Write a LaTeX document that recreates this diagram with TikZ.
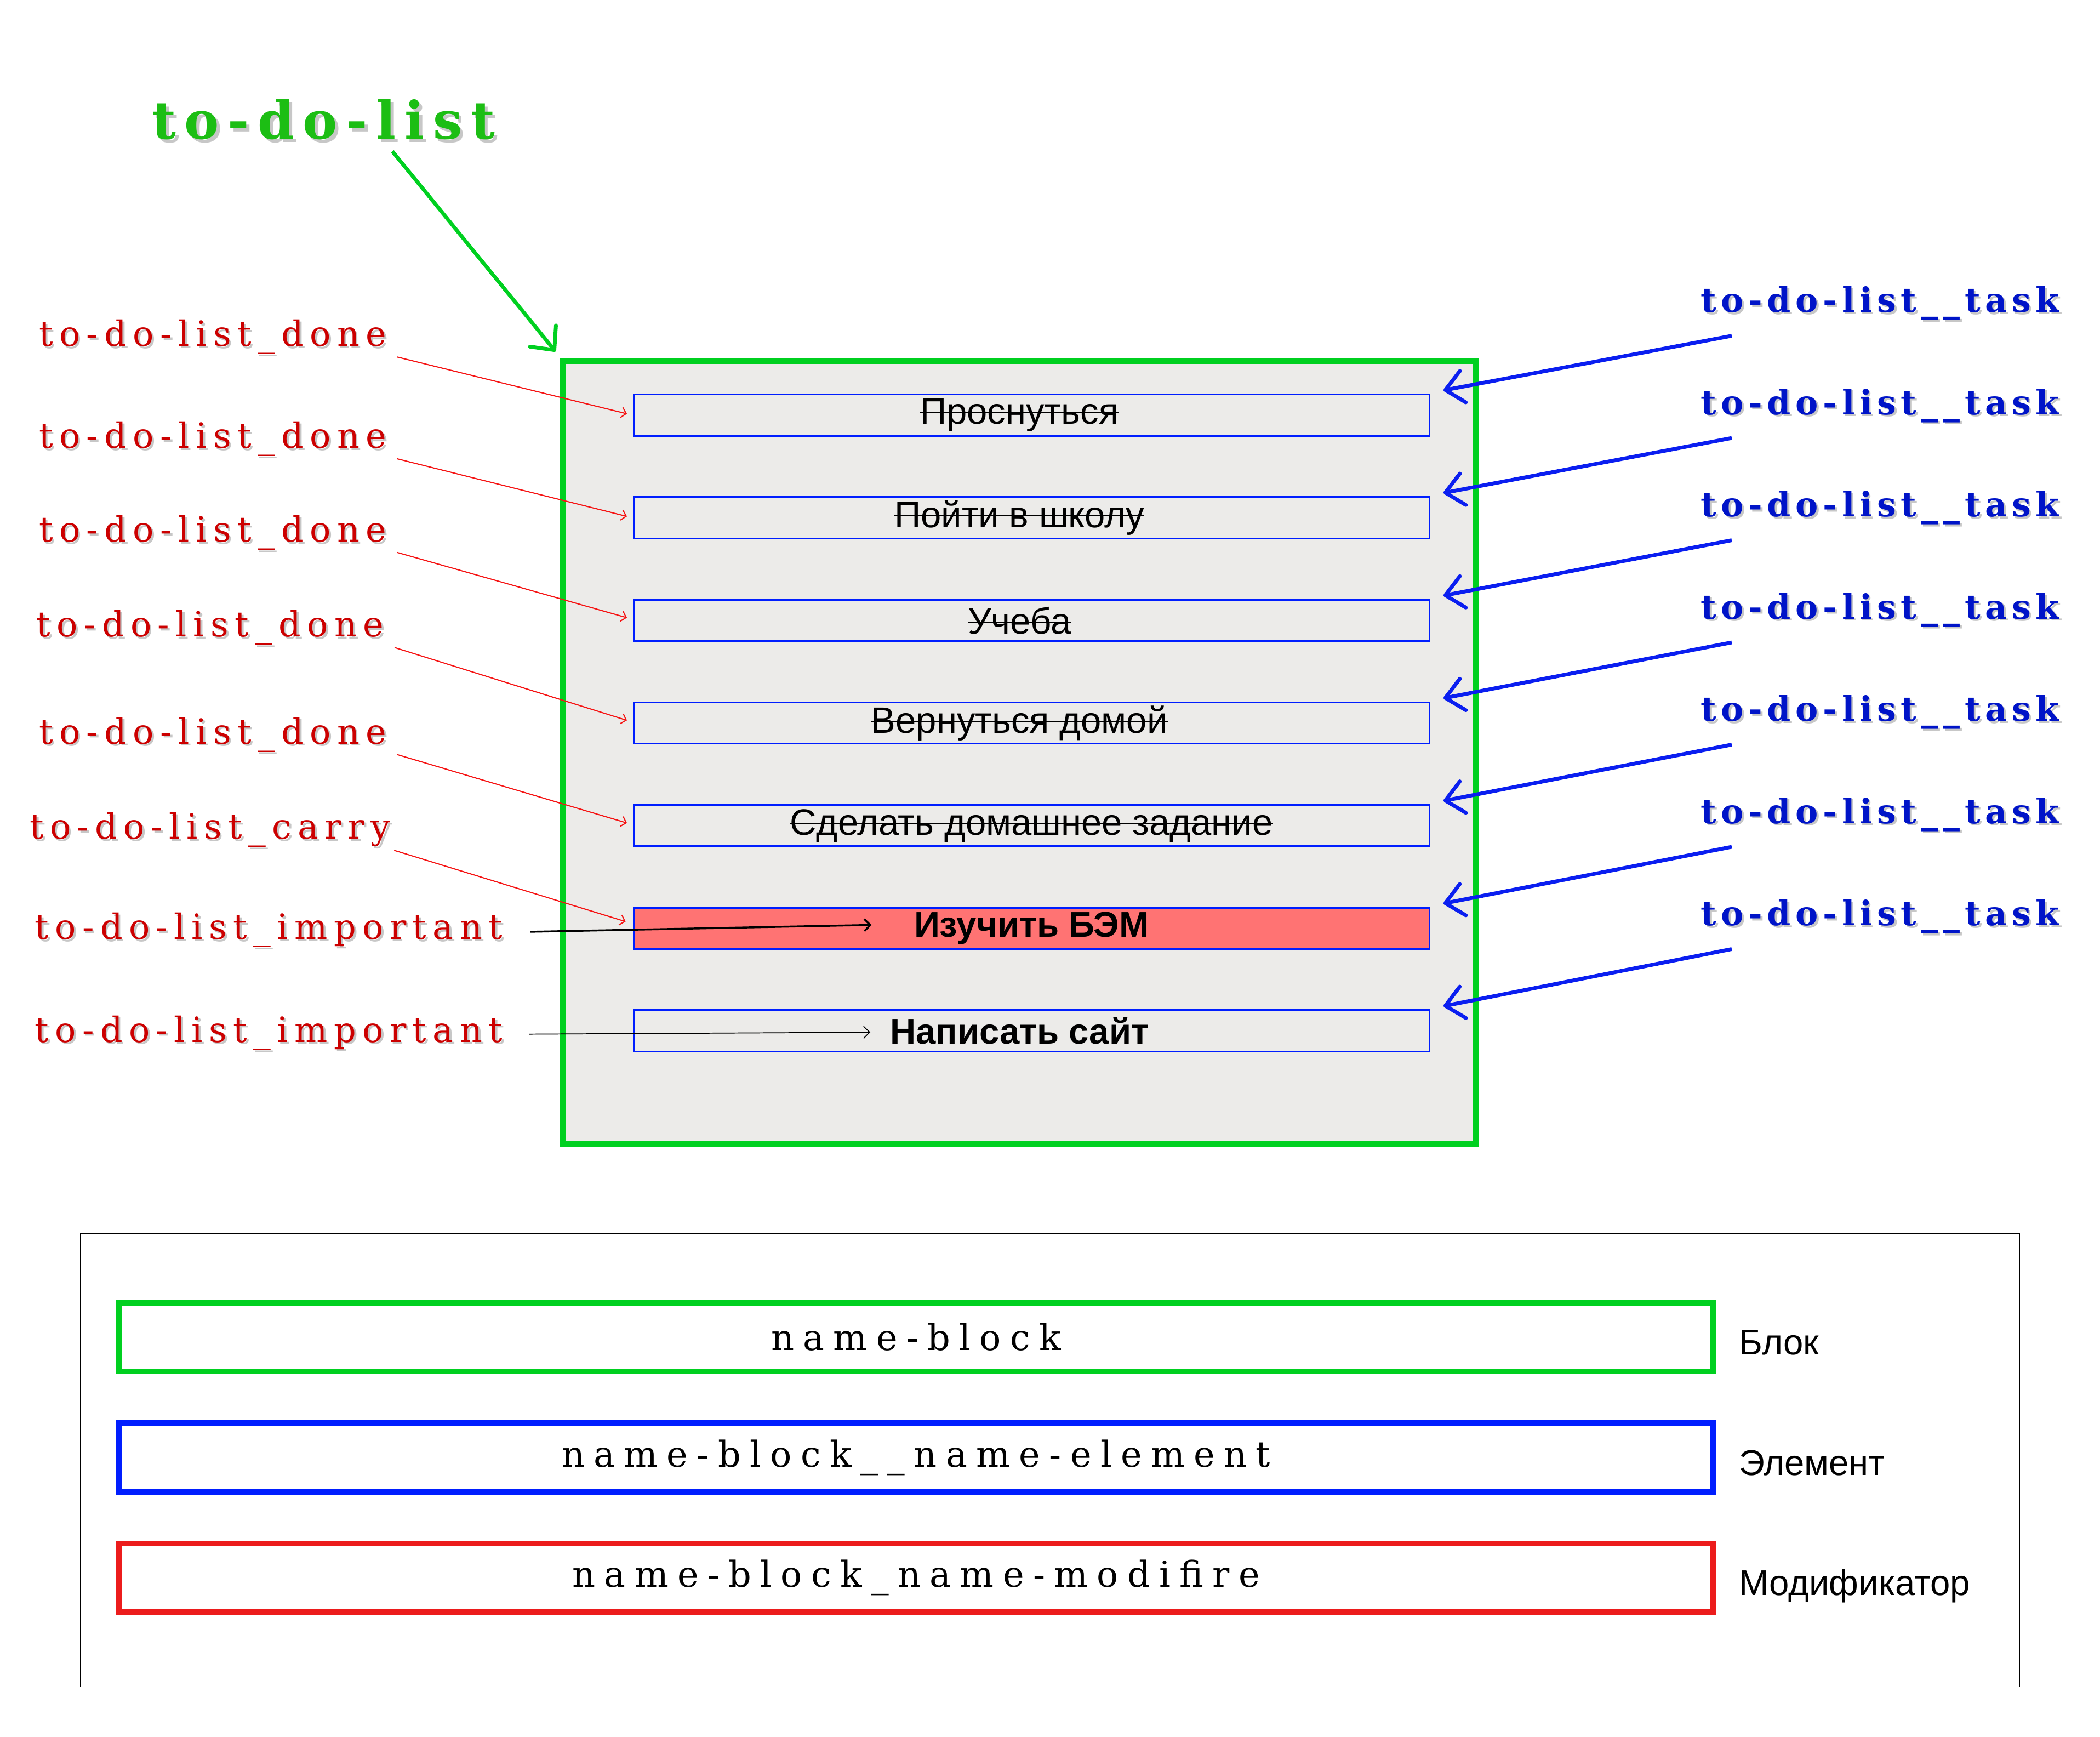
\documentclass[tikz,border=0pt]{standalone}
\usepackage{fontspec}
\setmainfont{Liberation Sans}
\newfontfamily\redfont[LetterSpace=18]{DejaVu Serif}
\newfontfamily\ttlfont[LetterSpace=16.5]{DejaVu Serif}
\newfontfamily\bluefont[LetterSpace=14]{DejaVu Serif}
\newfontfamily\legfont[LetterSpace=25]{DejaVu Serif}
\usetikzlibrary{positioning,arrows.meta}
\definecolor{tdlgreen}{RGB}{0,208,32}
\definecolor{ttlgreen}{RGB}{28,190,20}
\definecolor{tdlgray}{RGB}{236,235,233}
\definecolor{tblue}{RGB}{0,30,255}
\definecolor{arrblue}{RGB}{10,30,240}
\definecolor{lblblue}{RGB}{0,20,200}
\definecolor{lblred}{RGB}{204,0,0}
\definecolor{arrred}{RGB}{245,20,20}
\definecolor{legred}{RGB}{236,28,28}
\definecolor{bemred}{RGB}{255,115,115}
\newcommand{\shd}[1]{\rlap{\kern0.06em\raisebox{-0.06em}{\textcolor{black!22}{#1}}}#1}
\newcommand{\strk}[1]{\sbox0{#1}\rlap{\usebox0}\rule[0.3em]{\wd0}{0.6pt}}
\tikzstyle{tdlbox}=[rectangle, draw=tdlgreen, fill=tdlgray, line width=2.9pt,
                    outer sep=0pt, inner sep=0pt, minimum width=17.03cm, minimum height=14.61cm]
\tikzstyle{tbox}=[rectangle, draw=tblue, line width=1pt, outer sep=0pt, inner sep=0pt,
                  minimum width=14.85cm, minimum height=0.77cm, font=\fontsize{19.5}{22}\selectfont]
\tikzstyle{bbox}=[tbox, font=\fontsize{19}{22}\selectfont\bfseries]
\tikzstyle{ibox}=[bbox, fill=bemred]
\tikzstyle{ttl}=[anchor=base west, inner sep=0pt, text=ttlgreen,
                 font=\ttlfont\bfseries\fontsize{27.6}{32}\selectfont]
\tikzstyle{rlbl}=[anchor=base west, inner sep=0pt, text=lblred, font=\redfont\fontsize{18.5}{22}\selectfont]
\tikzstyle{blbl}=[anchor=base west, inner sep=0pt, text=lblblue,
                  font=\bluefont\bfseries\fontsize{18}{22}\selectfont]
\tikzstyle{lgframe}=[rectangle, draw=black, line width=0.3pt, outer sep=0pt, inner sep=0pt,
                     minimum width=36.2cm, minimum height=8.46cm]
\tikzstyle{lgbox}=[rectangle, line width=2.9pt, outer sep=0pt, inner sep=0pt, minimum width=29.75cm,
                   minimum height=1.285cm, font=\legfont\fontsize{19}{22}\selectfont]
\tikzstyle{lglbl}=[inner sep=0pt, font=\fontsize{19}{22}\selectfont]
\tikzstyle{garr}=[-{Straight Barb[round,length=9.6pt,width=17.8pt]}, draw=tdlgreen, line width=2pt]
\tikzstyle{barr}=[-{Straight Barb[round,length=9.5pt,width=17pt]}, draw=arrblue, line width=2pt]
\tikzstyle{rarr}=[-{Straight Barb[length=2.5pt,width=5.5pt]}, draw=arrred, line width=0.6pt]
\tikzstyle{karr}=[-{Straight Barb[length=3.2pt,width=6.4pt]}, draw=black, line width=1pt]

\begin{document}
\begin{tikzpicture}[x=0.025cm, y=-0.025cm]
\useasboundingbox (0,0) rectangle (1568,1296.7);

\node (TDL) [ttl] at (113.3,103.8) {\shd{to-do-list}};
\node (TDLBOX) [tdlbox] at (761.1,561.8) {};
 \draw[garr] ([shift={(179.7,9.2)}]TDL.base west) -- ([shift={(-5.6,-7.1)}]TDLBOX.north west);

\node (PRSN) [tbox] at (770.2,309.9) {\strk{Проснуться}\kern12.8pt};
\node (POIT) [tbox, below=1.145cm of PRSN] {\strk{Пойти в школу}\kern12.8pt};
\node (UCHB) [tbox, below=1.145cm of POIT] {\strk{Учеба}\kern12.8pt};
\node (VERN) [tbox, below=1.145cm of UCHB] {\strk{Вернуться домой}\kern12.8pt};
\node (DZ) [tbox, below=1.145cm of VERN] {\strk{Сделать домашнее задание}};
\node (BEM) [ibox, below=1.145cm of DZ] {Изучить БЭМ};
\node (SITE) [bbox, below=1.145cm of BEM] {Написать сайт\kern12.8pt};

\node (DONE1) [rlbl] at (28.8,258.5) {\shd{to-do-list\_done}};
 \draw[rarr] ([shift={(267.7,8)}]DONE1.base west) -- ([shift={(-5,-1)}]PRSN.west);
\node (DONE2) [rlbl] at (28.8,334.5) {\shd{to-do-list\_done}};
 \draw[rarr] ([shift={(267.7,8)}]DONE2.base west) -- ([shift={(-5,-1)}]POIT.west);
\node (DONE3) [rlbl] at (28.8,404.4) {\shd{to-do-list\_done}};
 \draw[rarr] ([shift={(267.7,8)}]DONE3.base west) -- ([shift={(-5,-2)}]UCHB.west);
\node (DONE4) [rlbl] at (26.9,475.4) {\shd{to-do-list\_done}};
 \draw[rarr] ([shift={(267.7,8)}]DONE4.base west) -- ([shift={(-5,-2)}]VERN.west);
\node (DONE5) [rlbl] at (28.8,555.3) {\shd{to-do-list\_done}};
 \draw[rarr] ([shift={(267.7,8)}]DONE5.base west) -- ([shift={(-5,-2)}]DZ.west);
\node (CARRY) [rlbl] at (21.9,626.4) {\shd{to-do-list\_carry}};
 \draw[rarr] ([shift={(272.4,8.4)}]CARRY.base west) -- ([shift={(-6,-5)}]BEM.west);
\node (IMP1) [rlbl] at (25.7,701.3) {\shd{to-do-list\_important}};
 \draw[karr] ([shift={(370.4,-5.7)}]IMP1.base west) -- ([shift={(177.7,-2.5)}]BEM.west);
\node (IMP2) [rlbl] at (25.7,777.9) {\shd{to-do-list\_important}};
 \draw[karr, line width=0.5pt] ([shift={(369.5,-5.9)}]IMP2.base west) -- ([shift={(176.7,1)}]SITE.west);

\node (TASK1) [blbl] at (1269.6,233.1) {\shd{to-do-list\_\_task}};
 \draw[barr] ([shift={(23.4,17.6)}]TASK1.base west) -- ([shift={(10.5,-18.5)}]PRSN.east);
\node (TASK2) [blbl] at (1269.6,309.4) {\shd{to-do-list\_\_task}};
 \draw[barr] ([shift={(23.4,17.6)}]TASK2.base west) -- ([shift={(10.5,-18.5)}]POIT.east);
\node (TASK3) [blbl] at (1269.6,385.7) {\shd{to-do-list\_\_task}};
 \draw[barr] ([shift={(23.4,17.6)}]TASK3.base west) -- ([shift={(10.5,-18.5)}]UCHB.east);
\node (TASK4) [blbl] at (1269.6,462.0) {\shd{to-do-list\_\_task}};
 \draw[barr] ([shift={(23.4,17.6)}]TASK4.base west) -- ([shift={(10.5,-18.5)}]VERN.east);
\node (TASK5) [blbl] at (1269.6,538.3) {\shd{to-do-list\_\_task}};
 \draw[barr] ([shift={(23.4,17.6)}]TASK5.base west) -- ([shift={(10.5,-18.5)}]DZ.east);
\node (TASK6) [blbl] at (1269.6,614.6) {\shd{to-do-list\_\_task}};
 \draw[barr] ([shift={(23.4,17.6)}]TASK6.base west) -- ([shift={(10.5,-18.5)}]BEM.east);
\node (TASK7) [blbl] at (1269.6,690.9) {\shd{to-do-list\_\_task}};
 \draw[barr] ([shift={(23.4,17.6)}]TASK7.base west) -- ([shift={(10.5,-18.5)}]SITE.east);

\node (LGND) [lgframe] at (784,1090.1) {};
\node (NBLK) [lgbox, draw=tdlgreen] at (684,998.2) {name-block};
\node (NELM) [lgbox, draw=tblue, below=0.96cm of NBLK] {name-block\_\_name-element};
\node (NMOD) [lgbox, draw=legred, below=0.96cm of NELM] {name-block\_name-modifire};
\node (LBLK) [lglbl, right=0.475cm of NBLK.east, anchor=base west, yshift=-0.33cm] {Блок};
\node (LELM) [lglbl, right=0.475cm of NELM.east, anchor=base west, yshift=-0.33cm] {Элемент};
\node (LMOD) [lglbl, right=0.475cm of NMOD.east, anchor=base west, yshift=-0.33cm] {Модификатор};

\end{tikzpicture}
\end{document}
